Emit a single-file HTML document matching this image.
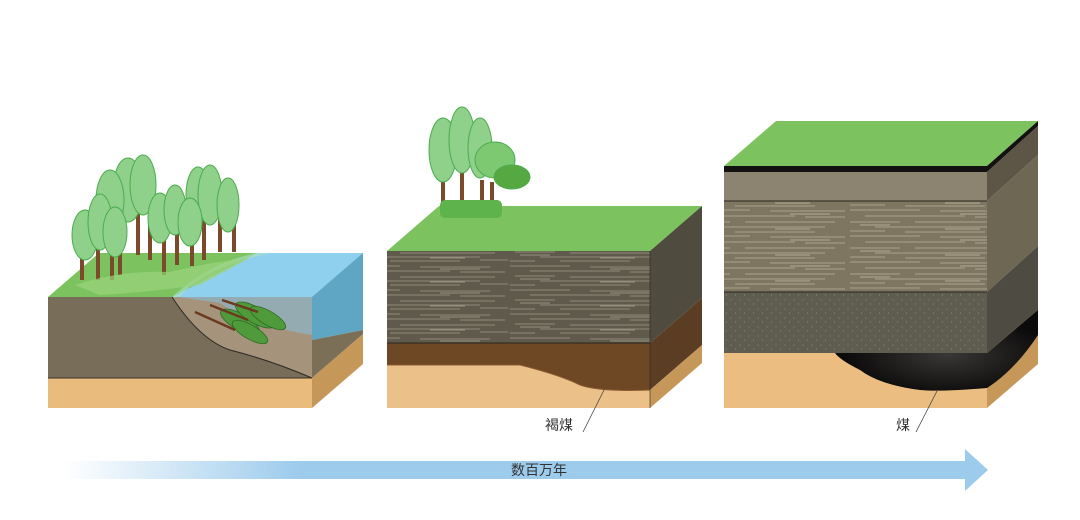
<!DOCTYPE html>
<html><head><meta charset="utf-8"><style>
html,body{margin:0;padding:0;background:#fff;width:1080px;height:520px;overflow:hidden}
text{font-family:"Liberation Sans","Noto Sans CJK SC",sans-serif}
</style></head><body>
<svg width="1080" height="520" viewBox="0 0 1080 520" xmlns="http://www.w3.org/2000/svg">
<defs>
<linearGradient id="ag" x1="65" y1="0" x2="300" y2="0" gradientUnits="userSpaceOnUse">
<stop offset="0" stop-color="#fff"/><stop offset="1" stop-color="#9dcbec"/></linearGradient>
<pattern id="str" width="170" height="24" patternUnits="userSpaceOnUse">
<rect width="170" height="24" fill="#5f5a4c"/>
<g stroke="#8f8a78" stroke-width="1" fill="none">
<path d="M0 2h60M80 3h70M20 7h90M120 8h45M5 12h40M60 13h95M30 17h110M0 21h25M50 21h70M140 20h28"/>
</g>
<g stroke="#a9a491" stroke-width=".8" fill="none"><path d="M100 5h40M10 15h30M90 18h35"/></g>
</pattern>
<pattern id="str2" width="170" height="26" patternUnits="userSpaceOnUse">
<rect width="170" height="26" fill="#7f7662"/>
<g stroke="#aaa18b" stroke-width="1" fill="none">
<path d="M0 2h70M90 3h75M15 8h100M125 9h40M0 14h50M65 14h90M25 19h120M0 23h35M55 24h80"/>
</g>
<g stroke="#c4bba6" stroke-width=".8" fill="none"><path d="M110 6h40M10 17h30M95 21h35"/></g>
</pattern>
<pattern id="dot" width="9" height="9" patternUnits="userSpaceOnUse">
<rect width="9" height="9" fill="#5f5d50"/><circle cx="2" cy="3" r=".5" fill="#9c998a"/><circle cx="6.5" cy="7" r=".5" fill="#9c998a"/></pattern>
<radialGradient id="coal" cx=".55" cy=".55" r=".5"><stop offset="0" stop-color="#3a3836"/><stop offset="1" stop-color="#0c0b0b"/></radialGradient>
</defs>

<!-- Block 1 -->
<polygon points="48,297 99,253 363,253 312,297" fill="#7cc35f"/>
<polygon points="172,297 257,253 363,253 312,297" fill="#8fd0ee"/>
<path d="M172,297 Q210,262 257,253 L270,253 Q200,270 180,297Z" fill="#aee0c4" opacity=".6"/>
<rect x="48" y="297" width="264" height="81" fill="#776d58"/>
<path d="M172,297 Q200,340 230,350 Q270,360 312,378 L312,297Z" fill="#a6937c"/>
<path d="M172,297 Q200,340 230,350 Q270,360 312,378" fill="none" stroke="#2c2a25" stroke-width="1"/>
<path d="M178,297 L312,297 L312,335 Q250,325 220,303Z" fill="#7fc3e6" opacity=".5"/>
<rect x="48" y="378" width="264" height="30" fill="#e9bb7c"/>
<line x1="48" y1="378" x2="312" y2="378" stroke="#3a3328"/>
<polygon points="312,297 363,253 363,330 312,340" fill="#5ea6c4"/>
<polygon points="312,340 363,330 363,334 312,378" fill="#7b6f58"/>
<polygon points="312,378 363,334 363,364 312,408" fill="#c59759"/>
<g fill="#4f9a3a" stroke="#2e6a25" stroke-width=".8">
<ellipse cx="240" cy="322" rx="22" ry="8" transform="rotate(30 240 322)"/>
<ellipse cx="255" cy="315" rx="22" ry="8" transform="rotate(30 255 315)"/>
<ellipse cx="268" cy="318" rx="20" ry="7" transform="rotate(30 268 318)"/>
<ellipse cx="250" cy="332" rx="20" ry="7" transform="rotate(30 250 332)"/>
</g>
<path d="M195,312 L235,330 M210,305 L248,320 M222,300 L258,312" stroke="#6b3a1f" stroke-width="2.5"/>

<g>
<g fill="#7a4a2a"><rect x="80" y="240" width="4" height="40"/><rect x="96" y="230" width="4" height="50"/><rect x="110" y="235" width="4" height="45"/><rect x="118" y="220" width="4" height="55"/><rect x="136" y="210" width="4" height="45"/><rect x="148" y="205" width="4" height="55"/><rect x="162" y="230" width="4" height="45"/><rect x="175" y="225" width="4" height="40"/><rect x="190" y="228" width="4" height="38"/><rect x="202" y="215" width="4" height="45"/><rect x="218" y="212" width="4" height="40"/><rect x="232" y="212" width="4" height="40"/></g>
<g fill="#8fd08a" stroke="#4cab4e" stroke-width="1">
<ellipse cx="128" cy="190" rx="15" ry="32"/><ellipse cx="143" cy="185" rx="13" ry="30"/><ellipse cx="110" cy="200" rx="14" ry="30"/>
<ellipse cx="198" cy="195" rx="12" ry="28"/><ellipse cx="210" cy="195" rx="12" ry="30"/><ellipse cx="228" cy="205" rx="11" ry="27"/>
<ellipse cx="85" cy="235" rx="13" ry="25"/><ellipse cx="100" cy="222" rx="12" ry="28"/><ellipse cx="115" cy="232" rx="12" ry="25"/>
<ellipse cx="160" cy="218" rx="12" ry="25"/><ellipse cx="175" cy="210" rx="11" ry="25"/><ellipse cx="190" cy="222" rx="12" ry="24"/>
</g>
<path d="M75,285 Q120,270 170,272 Q210,262 250,258 L200,285 Q150,292 100,295Z" fill="#9ad37e" opacity=".7"/>
</g>

<!-- Block 2 -->
<polygon points="387,251 439,206 702,206 650,251" fill="#7cc35f"/>
<rect x="387" y="251" width="263" height="92" fill="url(#str)"/>
<rect x="387" y="343" width="263" height="47" fill="#6e4725"/>
<path d="M387,365 L520,365 Q560,375 580,385 Q600,392 650,390 L650,408 L387,408Z" fill="#ecc189"/>
<path d="M387,365 L520,365 Q560,375 580,385 Q600,392 650,390" fill="none" stroke="#8a5a30"/>
<line x1="387" y1="343" x2="650" y2="343" stroke="#2a2620"/>
<polygon points="650,251 702,206 702,298 650,343" fill="#4f4b3f"/>
<polygon points="650,343 702,298 702,345 650,390" fill="#5a3d22"/>
<polygon points="650,390 702,345 702,363 650,408" fill="#c59759"/>
<line x1="650" y1="251" x2="650" y2="408" stroke="#2a2620" stroke-width=".6"/>
<g fill="#7a4a2a"><rect x="441" y="175" width="4" height="38"/><rect x="460" y="170" width="4" height="45"/><rect x="480" y="180" width="4" height="35"/><rect x="490" y="182" width="4" height="33"/></g>
<g stroke="#4cab4e" stroke-width="1">
<ellipse cx="443" cy="150" rx="14" ry="32" fill="#8fd08a"/><ellipse cx="462" cy="140" rx="13" ry="33" fill="#8fd08a"/><ellipse cx="480" cy="148" rx="12" ry="30" fill="#8fd08a"/>
<ellipse cx="495" cy="160" rx="20" ry="18" fill="#7dc972"/><ellipse cx="512" cy="177" rx="18" ry="12" fill="#55a842"/>
</g>
<rect x="440" y="200" width="62" height="18" rx="5" fill="#5fb34c"/>

<!-- Block 3 -->
<polygon points="724,166 776,121 1038,121 987,166" fill="#7cc35f"/>
<rect x="724" y="166" width="263" height="6" fill="#141210"/>
<rect x="724" y="172" width="263" height="29" fill="#8c8470"/>
<rect x="724" y="201" width="263" height="91" fill="url(#str2)"/>
<rect x="724" y="292" width="263" height="61" fill="url(#dot)"/>
<rect x="724" y="353" width="263" height="55" fill="#ecbd80"/>
<g stroke="#2a2620" stroke-width="1"><line x1="724" y1="201" x2="987" y2="201"/><line x1="724" y1="292" x2="987" y2="292"/></g>
<polygon points="987,166 1038,121 1038,126 987,172" fill="#141210"/>
<polygon points="987,172 1038,126 1038,155 987,201" fill="#5d5646"/>
<polygon points="987,201 1038,155 1038,246 987,292" fill="#6e6754"/>
<polygon points="987,292 1038,246 1038,310 987,353" fill="#4e4c42"/>
<polygon points="987,353 1038,310 1038,364 987,408" fill="#c59759"/>
<path d="M835,353 L987,353 L1038,310 L1038,335 Q1015,370 987,388 Q940,392 920,390 Q880,385 860,370 Q840,360 835,353Z" fill="url(#coal)"/>

<text x="545" y="430" font-size="14" fill="#333">褐煤</text>
<line x1="583" y1="432" x2="605" y2="388" stroke="#444" stroke-width=".8"/>
<text x="896" y="430" font-size="14" fill="#333">煤</text>
<line x1="916" y1="432" x2="937" y2="391" stroke="#444" stroke-width=".8"/>

<rect x="65" y="461" width="902" height="18" fill="url(#ag)"/>
<polygon points="965,449 988,470 965,491" fill="#9dcbec"/>
<text x="539" y="475" font-size="14" fill="#333" text-anchor="middle">数百万年</text>
</svg>
</body></html>
